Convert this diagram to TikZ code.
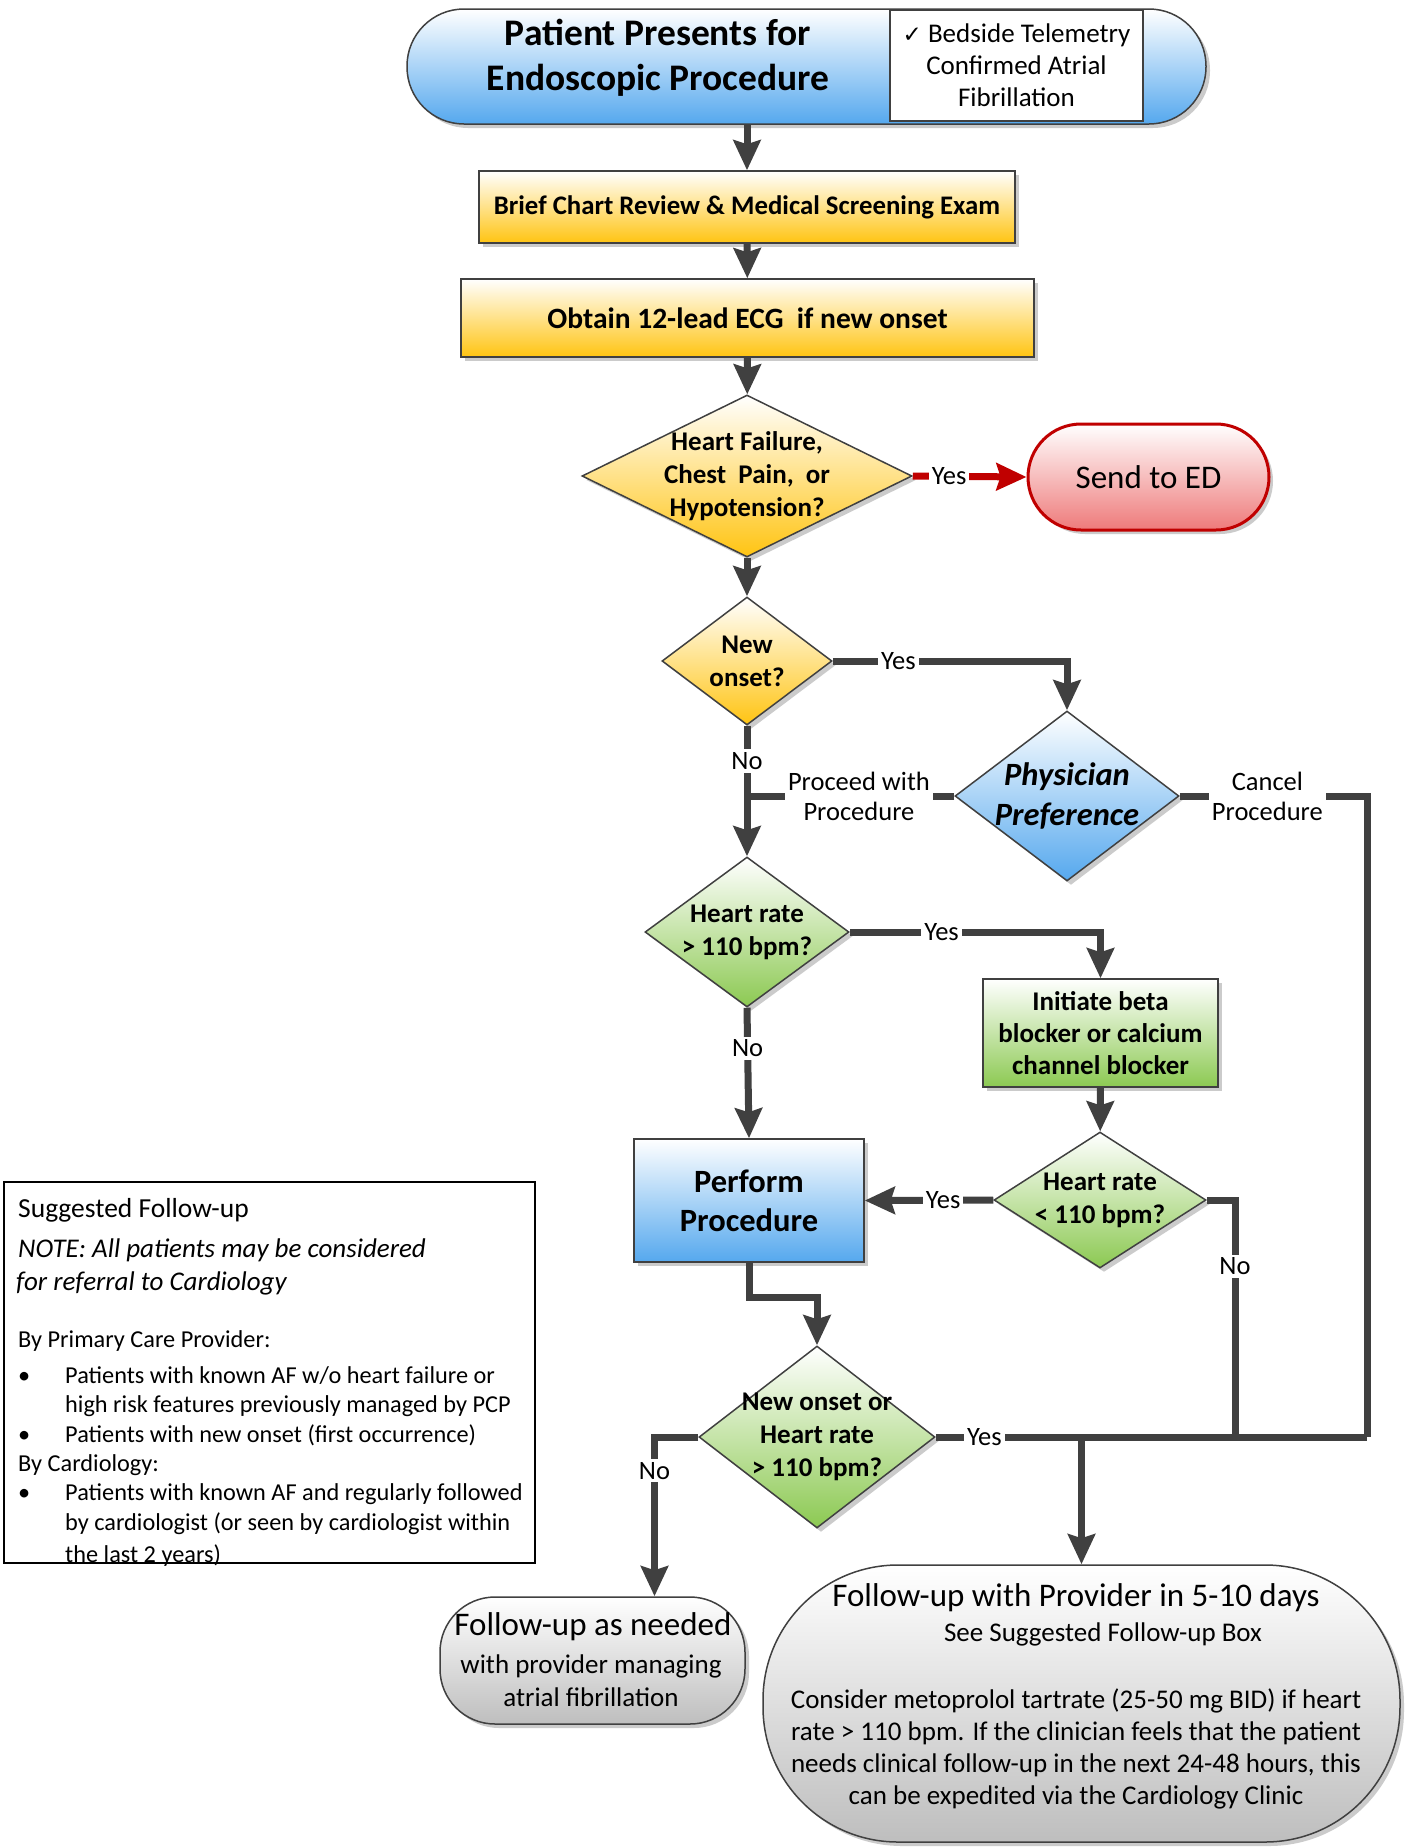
\documentclass[tikz,border=0pt]{standalone}
\usepackage{fontspec}
\setmainfont{Carlito}
\newfontfamily\symfont{DejaVu Sans}
\usepackage{tikz}
\usetikzlibrary{shapes.geometric,arrows.meta,shadows}

\definecolor{linegray}{HTML}{404040}
\definecolor{gold}{HTML}{FFC412}
\definecolor{skyblue}{HTML}{55A8EE}
\definecolor{leafgreen}{HTML}{8CC952}
\definecolor{edred}{HTML}{C00000}
\definecolor{edpink}{HTML}{EE7A7A}
\definecolor{cloudgray}{HTML}{BEBEBE}

\begin{document}
\begin{tikzpicture}[x=1pt,y=-1pt,
  boxshadow/.style={drop shadow={shadow xshift=4pt,shadow yshift=-4pt,fill=black!40,opacity=.5}},
  box/.style={rectangle,draw=linegray,line width=1.5pt,inner sep=0pt,align=center,boxshadow},
  decision/.style={diamond,draw=linegray,line width=1.5pt,inner sep=-12pt,align=center,boxshadow,font=\bfseries\fontsize{27}{33}\selectfont},
  yellowfill/.style={top color=white,bottom color=gold},
  bluefill/.style={top color=white,bottom color=skyblue},
  greenfill/.style={top color=white,bottom color=leafgreen},
  grayfill/.style={top color=white,bottom color=cloudgray},
  conn/.style={draw=linegray,line width=7pt},
  arr/.style={conn,-{Stealth[length=30pt,width=27pt,inset=4pt]}},
  lbl/.style={fill=white,inner sep=3pt,font=\fontsize{26.5}{30}\selectfont,align=center},
  sugline/.style={anchor=base west,inner sep=0pt,font=\fontsize{24.3}{28}\selectfont}]

\fill[white] (0,0) rectangle (1418,1848);
\useasboundingbox (0,0) rectangle (1418,1848);

\node[box,bluefill,rounded corners=57pt,minimum width=799pt,minimum height=115pt] (top) at (806.5,66.5) {};
\node[font=\bfseries\fontsize{37.5}{45}\selectfont,align=center] (title) at (658,58) {Patient Presents for\\Endoscopic Procedure};
\node[rectangle,draw=linegray,line width=2pt,fill=white,minimum width=253pt,minimum height=111pt,align=center,font=\fontsize{27}{32}\selectfont] (check) at (1016.5,65.5) {{\symfont\fontsize{23}{32}\selectfont ✓} Bedside Telemetry\\Confirmed Atrial\\Fibrillation};

\node[box,yellowfill,minimum width=536pt,minimum height=72pt,font=\bfseries\fontsize{26.8}{30}\selectfont] (brief) at (747,207) {Brief Chart Review \& Medical Screening Exam};
\node[box,yellowfill,minimum width=573pt,minimum height=78pt,font=\bfseries\fontsize{29.5}{32}\selectfont] (ecg) at (747.5,318) {Obtain 12-lead ECG\ \ if new onset};

\node[decision,yellowfill,shape aspect=2.04,minimum width=330pt,minimum height=162pt] (hf) at (747,476) {Heart Failure,\\Chest\ \ Pain,\ \ or\\Hypotension?};
\node[box,rounded corners=53pt,top color=white,bottom color=edpink,draw=edred,line width=3pt,minimum width=241pt,minimum height=106pt,font=\fontsize{33}{36}\selectfont] (ed) at (1148.5,477) {Send to ED};

\node[decision,yellowfill,shape aspect=1.33,minimum width=170pt,minimum height=128pt] (newon) at (747,661) {New\\onset?};
\node[decision,bluefill,shape aspect=1.32,minimum width=224pt,minimum height=170pt,font=\bfseries\itshape\fontsize{32.5}{40}\selectfont] (phys) at (1067,796) {Physician\\Preference};

\node[decision,greenfill,shape aspect=1.36,minimum width=204pt,minimum height=150pt] (hr1) at (747,932) {Heart rate\\> 110 bpm?};
\node[box,greenfill,minimum width=235pt,minimum height=108pt,font=\bfseries\fontsize{27}{32}\selectfont] (init) at (1100.5,1033) {Initiate beta\\blocker or calcium\\channel blocker};
\node[decision,greenfill,shape aspect=1.56,minimum width=212pt,minimum height=136pt] (hr2) at (1100,1200) {Heart rate\\< 110 bpm?};
\node[box,bluefill,minimum width=230pt,minimum height=123pt,font=\bfseries\fontsize{32.5}{39}\selectfont] (perf) at (749,1200.5) {Perform\\Procedure};
\node[decision,greenfill,shape aspect=1.3,minimum width=236pt,minimum height=182pt] (nohr) at (817,1437) {New onset or\\Heart rate\\> 110 bpm?};

\node[box,grayfill,rounded corners=55pt,minimum width=305pt,minimum height=127pt] (fuNeed) at (592.5,1660.5) {};
\node[font=\fontsize{33}{36}\selectfont] (needTitle) at (593,1627) {Follow-up as needed};
\node[font=\fontsize{27}{33}\selectfont,align=center] (needBody) at (591,1681) {with provider managing\\atrial fibrillation};

\node[box,grayfill,rounded corners=135pt,minimum width=637pt,minimum height=277pt] (fuProv) at (1081.5,1703.5) {};
\node[font=\fontsize{33}{36}\selectfont] (provTitle) at (1076,1598) {Follow-up with Provider in 5-10 days};
\node[font=\fontsize{27}{30}\selectfont] (provSee) at (1103,1634) {See Suggested Follow-up Box};
\node[font=\fontsize{27}{32}\selectfont,align=center] (provBody) at (1076,1749) {Consider metoprolol tartrate (25-50 mg BID) if heart\\rate > 110 bpm. If the clinician feels that the patient\\needs clinical follow-up in the next 24-48 hours, this\\can be expedited via the Cardiology Clinic};

\node[rectangle,draw=black,line width=2pt,minimum width=531pt,minimum height=381pt] (sugBox) at (269.5,1372.5) {};
\node[sugline,font=\fontsize{27.5}{30}\selectfont] (sugHead) at (18,1217) {Suggested Follow-up};
\node[sugline,font=\itshape\fontsize{27}{30}\selectfont] (sugNote) at (18,1257) {NOTE: All patients may be considered};
\node[sugline,font=\itshape\fontsize{27}{30}\selectfont] (sugNoteb) at (16,1290) {for referral to Cardiology};
\node[sugline] (sugPcp) at (18,1347) {By Primary Care Provider:};
\node[sugline] (sugCard) at (18,1471) {By Cardiology:};
\foreach \y/\t [count=\i] in {1383/{Patients with known AF w/o heart failure or},1412/{high risk features previously managed by PCP},1442/{Patients with new onset (first occurrence)},1500/{Patients with known AF and regularly followed},1530/{by cardiologist (or seen by cardiologist within},1562/{the last 2 years)}}
  \node[sugline] (sugItem\i) at (65,\y) {\t};
\foreach \y [count=\i] in {1383,1442,1500}
  \node[sugline] (sugDot\i) at (18,\y) {\textbullet};

\draw[arr] (top.south -| brief.north) -- (brief.north);
\draw[arr] (brief) -- (ecg);
\draw[arr] (ecg) -- (hf);
\draw[arr] (hf) -- (newon);
\draw[conn,draw=edred,-{Stealth[length=30pt,width=27pt,inset=4pt]}] (hf.east) -- node[lbl,pos=.32]{Yes} (ed.west);

\draw[arr] (newon.east) -| node[lbl,pos=.14]{Yes} (phys.north);
\draw[conn] (phys.west) -- node[lbl,pos=.46]{Proceed with\\Procedure} (phys.west -| newon.south);
\draw[arr] (newon.south) -- node[lbl,pos=.27]{No} (hr1.north);

\coordinate (rail) at (1367,1437);
\coordinate (join) at (fuProv.north |- nohr.east);
\coordinate (needIn) at ([xshift=62pt]fuNeed.north);
\draw[conn] (phys.east) -| node[lbl,pos=.234]{Cancel\\Procedure} (rail);
\draw[conn] (hr2.east) -| node[lbl,pos=.64]{No} (1235,1437);
\draw[conn] (nohr.east) -- node[lbl,pos=.113]{Yes} (rail);
\draw[arr] (join) -- (fuProv.north);

\draw[arr] (hr1.east) -| node[lbl,pos=.183]{Yes} (init.north);
\draw[arr] (hr1.south) -- node[lbl,pos=.31]{No} (perf.north);
\draw[arr] (init) -- (hr2);
\draw[arr] (hr2.west) -- node[lbl,pos=.39]{Yes} (perf.east);
\draw[arr] (perf.south) -- ++(0,35) -| (nohr.north);
\draw[arr] (nohr.west) -| node[lbl,pos=.606]{No} (needIn);
\end{tikzpicture}
\end{document}
